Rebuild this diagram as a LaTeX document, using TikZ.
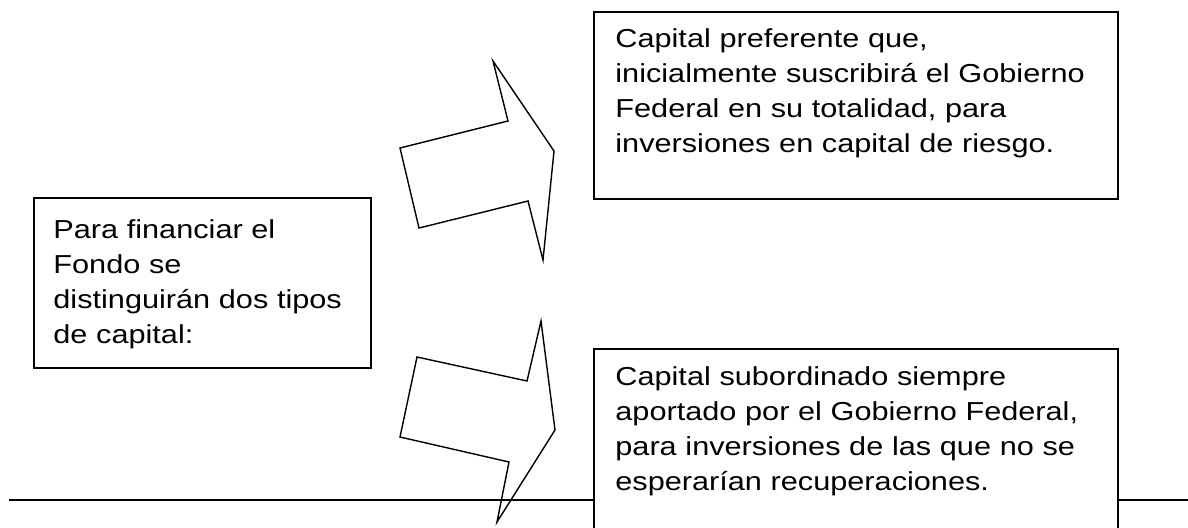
\documentclass[tikz,border=0pt]{standalone}
\usepackage{fontspec}
\setmainfont{Liberation Sans}[FakeStretch=1.18]
\begin{document}
\begin{tikzpicture}[x=0.5pt, y=-0.5pt,
  box/.style={draw, line width=0.8pt, fill=white, inner sep=0pt, anchor=north west},
  txt/.style={anchor=base west, inner sep=0pt, align=left, font=\fontsize{13}{17.5}\selectfont},
  blk/.style={draw, line width=0.7pt, line join=miter}]
\useasboundingbox (0,0) rectangle (1188,527);
\clip (0,0) rectangle (1188,527);
\coordinate (rl) at (9,500);
\coordinate (rr) at (1188,500);
\draw[line width=1.1pt](rl) -- (rr);
\node[box, minimum width=168.5pt, minimum height=85pt] (box0) at (33,197){};
\node[txt, text width=165pt] (txt0) at (53,238){Para financiar el\\Fondo se\\distinguirán dos tipos\\de capital:};
\node[box, minimum width=262pt, minimum height=93.5pt] (box1) at (593,11){};
\node[txt, text width=250pt] (txt1) at (615,47){Capital preferente que,\\inicialmente suscribirá el Gobierno\\Federal en su totalidad, para\\inversiones en capital de riesgo.};
\node[box, minimum width=262pt, minimum height=106pt] (box2) at (593,348){};
\node[txt, text width=250pt] (txt2) at (615,385){Capital subordinado siempre\\aportado por el Gobierno Federal,\\para inversiones de las que no se\\esperarían recuperaciones.};
\draw[blk](400,148) -- (508,121) -- (493,61) -- (554,151) -- (543,260) -- (528,201) -- (419,228) -- cycle;
\draw[blk](417,357) -- (527,381) -- (541,321) -- (555,430) -- (497,522) -- (509,462) -- (400,437) -- cycle;
\end{tikzpicture}
\end{document}
